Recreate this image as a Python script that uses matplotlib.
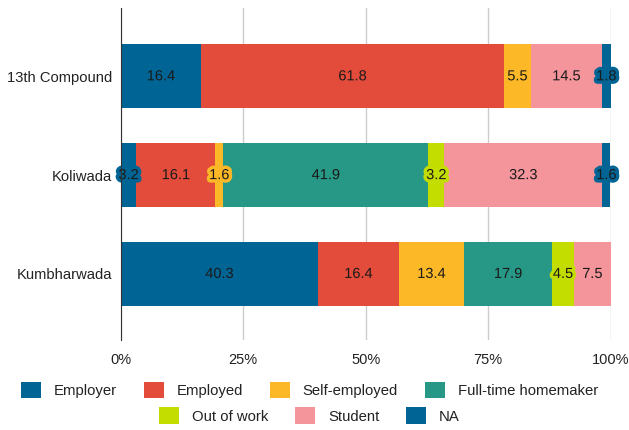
import numpy as np
import matplotlib.pyplot as plt
import matplotlib.patheffects as pe
from matplotlib.patches import Patch

plt.rcParams['font.family'] = ['Liberation Sans', 'DejaVu Sans']

places = ['13th Compound', 'Koliwada', 'Kumbharwada']
categories = ['Employer', 'Employed', 'Self-employed', 'Full-time homemaker',
              'Out of work', 'Student', 'NA']
employer = [16.4, 3.2, 40.3]
employed = [61.8, 16.1, 16.4]
self_employed = [5.5, 1.6, 13.4]
homemaker = [0.0, 41.9, 17.9]
out_of_work = [0.0, 3.2, 4.5]
student = [14.5, 32.3, 7.5]
na = [1.8, 1.6, 0.0]
series = [employer, employed, self_employed, homemaker, out_of_work, student, na]
colors = ['#006595', '#E34B3A', '#FDB827', '#289886', '#C4DD00', '#F4959B', '#006595']

fig = plt.figure(figsize=(6.29, 4.3), dpi=100)
ax = fig.add_axes([0.192, 0.209, 0.779, 0.772])

y = np.arange(len(places))
left = np.zeros(len(places))
for vals, col in zip(series, colors):
    vals = np.array(vals)
    ax.barh(y, vals, left=left, height=0.65, color=col, zorder=3)
    for yi, v, l in zip(y, vals, left):
        if v > 0:
            ax.text(l + v / 2, yi, f'{v:.1f}', ha='center', va='center',
                    fontsize=10.5, color='#1a1a1a', zorder=4,
                    path_effects=[pe.withStroke(linewidth=5, foreground=col)])
    left += vals

ax.set_xlim(0, 100)
ax.set_ylim(2.67, -0.69)
ax.set_yticks(y)
ax.set_yticklabels(places, fontsize=10.6, color='#222222')
ax.set_xticks([0, 25, 50, 75, 100])
ax.set_xticklabels(['0%', '25%', '50%', '75%', '100%'], fontsize=10.5, color='#222222')
ax.tick_params(axis='y', length=0, pad=6)
ax.tick_params(axis='x', length=0, pad=9)
ax.grid(axis='x', color='#cccccc', linewidth=1, zorder=0)
for s in ['top', 'right', 'bottom']:
    ax.spines[s].set_visible(False)
ax.spines['left'].set_color('#333333')
ax.spines['left'].set_zorder(5)

h1 = [Patch(facecolor=c, label=n) for n, c in zip(categories[:4], colors[:4])]
h2 = [Patch(facecolor=c, label=n) for n, c in zip(categories[4:], colors[4:])]
kw = dict(frameon=False, fontsize=10.7, handlelength=1.35, handleheight=1.35,
          columnspacing=1.8, handletextpad=0.87, labelcolor='#222222')
fig.legend(handles=h1, ncol=4, loc='center', bbox_to_anchor=(0.492, 0.093), **kw)
fig.legend(handles=h2, ncol=3, loc='center', bbox_to_anchor=(0.492, 0.033), **kw)

fig.savefig('out.png', dpi=100)
